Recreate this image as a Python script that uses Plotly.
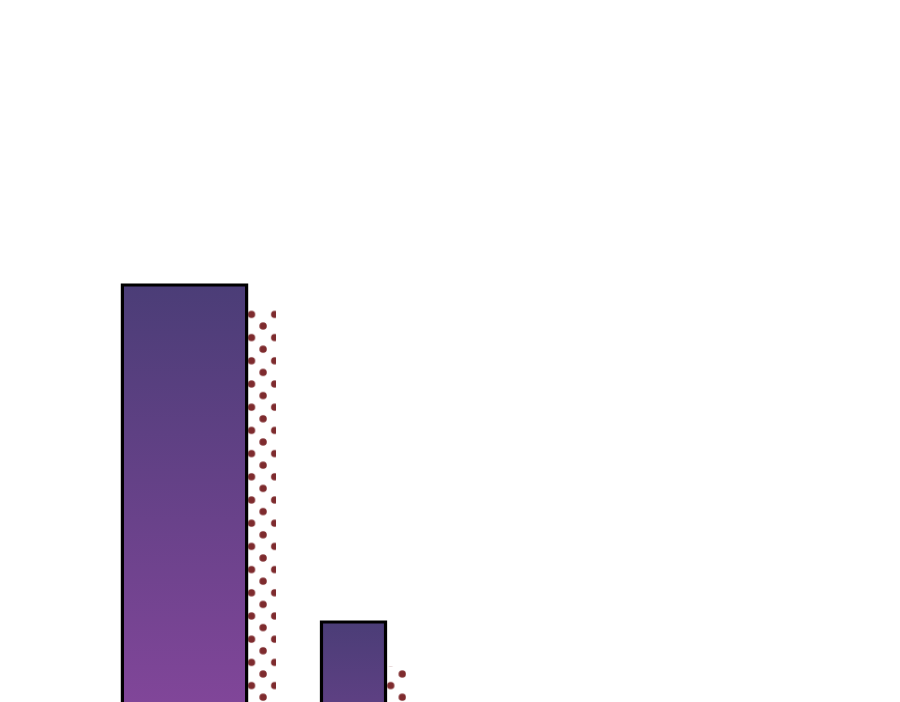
import plotly.graph_objects as go

# ======== data ======== #
bar_pos = [0, 1]
bar_values = [76.5, 42.8]
shadow_values = [74.2, 38.4]

# ======== style ======== #
bar_width = [0.735, 0.379]
shadow_shift = [0.174, 0.121]
top_color = '#4b3d77'
bottom_color = '#ad4db5'
dot_color = '#7e2b2e'

px_per_x = 169.0      # pixels per x unit
px_per_y = 10.0       # pixels per y unit
x_min = -176.5 / px_per_x
x_max = x_min + 900 / px_per_x
y_min = 34.0
y_max = y_min + 702 / px_per_y

fig = go.Figure()

# dotted shadow bars, two staggered dot grids (each on its own shifted subplot)
grids = [('x', 'y', 23.1, 16.4), ('x2', 'y2', 11.5, 4.8)]
for xa, ya, ox, oy in grids:
    fig.add_trace(go.Bar(
        x=bar_pos, y=shadow_values,
        width=bar_width,
        offset=[-w / 2 + s for w, s in zip(bar_width, shadow_shift)],
        marker=dict(color='rgba(0,0,0,0)', line=dict(width=0),
                    pattern=dict(shape='.', size=23.2, solidity=0.08,
                                 fgcolor=dot_color, bgcolor='rgba(0,0,0,0)',
                                 fgopacity=1)),
        xaxis=xa, yaxis=ya, hoverinfo='skip', showlegend=False))

# main bars with vertical gradient, outlined in black
for c, w, v in zip(bar_pos, bar_width, bar_values):
    fig.add_trace(go.Scatter(
        x=[c - w / 2, c + w / 2, c + w / 2, c - w / 2, c - w / 2],
        y=[0, 0, v, v, 0],
        mode='lines', fill='toself',
        fillgradient=dict(type='vertical',
                          colorscale=[[0, bottom_color], [1, top_color]]),
        line=dict(color='black', width=3.2),
        xaxis='x3', yaxis='y3', hoverinfo='skip', showlegend=False))

def ax(**kw):
    return dict(visible=False, showgrid=False, zeroline=False, fixedrange=True, **kw)

layout = dict(width=900, height=702, margin=dict(l=0, r=0, t=0, b=0),
              paper_bgcolor='white', plot_bgcolor='rgba(0,0,0,0)',
              barmode='overlay', showlegend=False)
for i, (xa, ya, ox, oy) in enumerate(grids):
    sfx = '' if i == 0 else str(i + 1)
    layout['xaxis' + sfx] = ax(domain=[ox / 900, 1],
                               range=[x_min + ox / px_per_x, x_max],
                               anchor=ya)
    layout['yaxis' + sfx] = ax(domain=[0, 1 - oy / 702],
                               range=[y_min, y_max - oy / px_per_y],
                               anchor=xa)
layout['xaxis3'] = ax(domain=[0, 1], range=[x_min, x_max], anchor='y3')
layout['yaxis3'] = ax(domain=[0, 1], range=[y_min, y_max], anchor='x3')

fig.update_layout(**layout)
fig.write_html("out.html")
